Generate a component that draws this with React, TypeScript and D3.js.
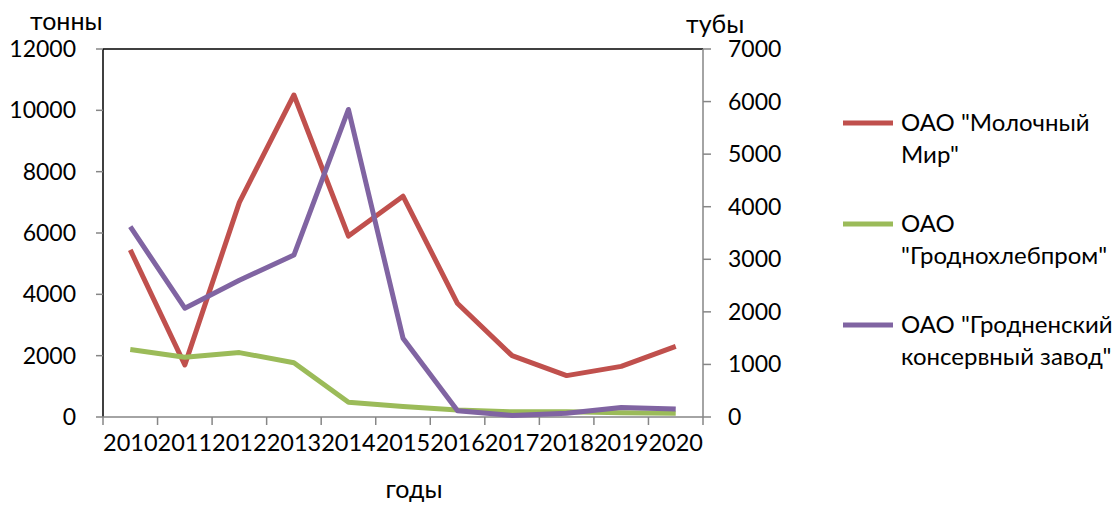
import React from "react";
import * as d3 from "d3";

const years = ["2010","2011","2012","2013","2014","2015","2016","2017","2018","2019","2020"];
const molochnyMir = [5450, 1700, 7000, 10500, 5900, 7200, 3700, 2000, 1350, 1650, 2300];
const grodnokhleb = [2200, 1950, 2100, 1770, 480, 340, 230, 170, 170, 140, 120];
const konservny = [3620, 2070, 2600, 3080, 5850, 1500, 120, 30, 70, 180, 150];
const leftTicks = [0, 2000, 4000, 6000, 8000, 10000, 12000];
const rightTicks = [0, 1000, 2000, 3000, 4000, 5000, 6000, 7000];

const legendItems = [
  { lines: ['ОАО "Молочный', 'Мир"'], color: "#C0504D" },
  { lines: ["ОАО", '"Гроднохлебпром"'], color: "#9BBB59" },
  { lines: ['ОАО "Гродненский', 'консервный завод"'], color: "#8064A2" },
];

const FONT = "Lato, 'Open Sans', sans-serif";

export default function App() {
  const left = 103, right = 703, top = 49, bottom = 417;
  const x = d3.scaleBand<string>().domain(years).range([left, right]);
  const yL = d3.scaleLinear().domain([0, 12000]).range([bottom, top]);
  const yR = d3.scaleLinear().domain([0, 7000]).range([bottom, top]);
  const cx = (i: number) => (x(years[i]) as number) + x.bandwidth() / 2;
  const lineL = d3.line<number>().x((_, i) => cx(i)).y((d) => yL(d));
  const lineR = d3.line<number>().x((_, i) => cx(i)).y((d) => yR(d));
  const xTicks = d3.range(years.length + 1).map((i) => left + i * x.bandwidth());

  return (
    <svg width={1120} height={505} style={{ position: "absolute", left: 0, top: 0, background: "#fff" }} fontFamily={FONT}>
      <line x1={left} y1={top} x2={right} y2={top} stroke="#000" strokeWidth={1.5} />
      <line x1={left} y1={top} x2={left} y2={bottom} stroke="#000" strokeWidth={1.5} />
      <line x1={right} y1={top} x2={right} y2={bottom} stroke="#868686" strokeWidth={1.5} />
      <line x1={left} y1={bottom} x2={right} y2={bottom} stroke="#868686" strokeWidth={1.5} />
      {leftTicks.map((t) => (
        <g key={"l" + t}>
          <line x1={left - 7} x2={left} y1={yL(t)} y2={yL(t)} stroke="#868686" strokeWidth={1.5} />
          <text x={76} y={yL(t)} dy="0.35em" textAnchor="end" fontSize={23} fill="#000">{t}</text>
        </g>
      ))}
      {rightTicks.map((t) => (
        <g key={"r" + t}>
          <line x1={right} x2={right + 8} y1={yR(t)} y2={yR(t)} stroke="#868686" strokeWidth={1.5} />
          <text x={728} y={yR(t)} dy="0.35em" textAnchor="start" fontSize={23} fill="#000">{t}</text>
        </g>
      ))}
      {xTicks.map((t, i) => (
        <line key={"x" + i} x1={t} x2={t} y1={bottom} y2={bottom + 8} stroke="#868686" strokeWidth={1.5} />
      ))}
      {years.map((yr, i) => (
        <text key={yr} x={cx(i)} y={451} textAnchor="middle" fontSize={23.5} fill="#000">{yr}</text>
      ))}
      <text x={30} y={30} fontSize={25} fill="#000">тонны</text>
      <text x={686} y={33} fontSize={25} fill="#000">тубы</text>
      <text x={414} y={498} textAnchor="middle" fontSize={25} fill="#000">годы</text>

      <path d={lineL(molochnyMir) || ""} fill="none" stroke="#C0504D" strokeWidth={5} strokeLinejoin="round" />
      <path d={lineL(grodnokhleb) || ""} fill="none" stroke="#9BBB59" strokeWidth={5} strokeLinejoin="round" />
      <path d={lineR(konservny) || ""} fill="none" stroke="#8064A2" strokeWidth={5} strokeLinejoin="round" />

      {legendItems.map((it, k) => {
        const y0 = 123 + k * 101;
        return (
          <g key={k}>
            <line x1={843} x2={893} y1={y0} y2={y0} stroke={it.color} strokeWidth={5} />
            {it.lines.map((ln, j) => (
              <text key={j} x={901} y={y0 + j * 32} dy="0.35em" fontSize={24} fill="#000">{ln}</text>
            ))}
          </g>
        );
      })}
    </svg>
  );
}
